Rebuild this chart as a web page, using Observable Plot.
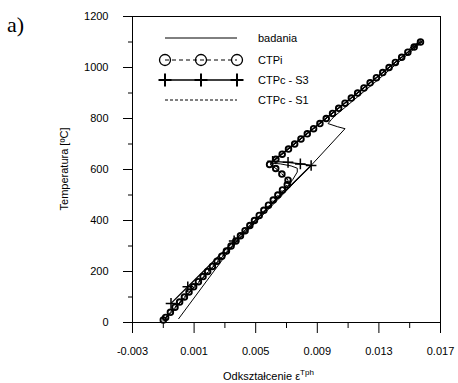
<!DOCTYPE html>
<html><head><meta charset="utf-8">
<script src="https://cdn.jsdelivr.net/npm/d3@7"></script>
<script src="https://cdn.jsdelivr.net/npm/@observablehq/plot@0.6"></script>
<style>body{margin:0;background:#fff} svg{display:block}</style>
</head><body><div id="chart"></div><script>
// ---- axis ticks ----
const xTicks = [-0.003, 0.001, 0.005, 0.009, 0.013, 0.017];
const xMinorTicks = [-0.001, 0.003, 0.007, 0.011, 0.015];
const yTicks = [0, 200, 400, 600, 800, 1000, 1200];
const yMinorTicks = [100, 300, 500, 700, 900, 1100];
const seriesNames = ["badania", "CTPi", "CTPc - S3", "CTPc - S1"];

// ---- badania (measurement) ----
const badaniaStrain = [0.0000, 0.0035, 0.0086, 0.0108, 0.0103, 0.0097, 0.0099, 0.0101, 0.0130, 0.0158, 0.0157, 0.0150, 0.0156, 0.0108, 0.0060, 0.0066, 0.0073, 0.0077, 0.0077, 0.0074, 0.0070, 0.0030, -0.0009];
const badaniaTemp   = [15, 300, 616, 760, 768, 780, 795, 808, 955, 1100, 1106, 1075, 1094, 860, 625, 622, 614, 605, 590, 560, 530, 268, 12];

// ---- CTPi ----
const ctpiStrain = [0.01570, 0.01529, 0.01488, 0.01448, 0.01407, 0.01366, 0.01325, 0.01284, 0.01243, 0.01203, 0.01162, 0.01121, 0.01080, 0.01039, 0.00999, 0.00958, 0.00917, 0.00876, 0.00835, 0.00794, 0.00753, 0.00713, 0.00672, 0.00631, 0.00590,
  0.0063, 0.0067, 0.0071,
  0.00705, 0.00674, 0.00644, 0.00614, 0.00583, 0.00553, 0.00523, 0.00492, 0.00462, 0.00431, 0.00401, 0.00371, 0.00340, 0.00310, 0.00280, 0.00249, 0.00219, 0.00188, 0.00158, 0.00128, 0.00097, 0.00067, 0.00037, 0.00006, -0.00024, -0.00054, -0.00085, -0.00100];
const ctpiTemp = [1100, 1080, 1060, 1040, 1020, 1000, 980, 960, 940, 920, 900, 880, 860, 840, 820, 800, 780, 760, 740, 720, 700, 680, 660, 640, 620,
  604, 582, 558,
  540, 520, 500, 480, 460, 440, 420, 400, 380, 360, 340, 320, 300, 280, 260, 240, 220, 200, 180, 160, 140, 120, 100, 80, 60, 40, 20, 10];

// ---- CTPc - S3 ----
const s3Strain = [0.0157, 0.0061, 0.0071, 0.0079, 0.0086, 0.0036, 0.00059, -0.0005];
const s3Temp   = [1100, 632, 628, 622, 616, 320, 140, 75];

// ---- CTPc - S1 ----
const s1Strain = [0.0157, 0.0059, 0.0064, 0.0069, 0.0073, -0.0010];
const s1Temp   = [1100, 622, 600, 572, 548, 10];

const toRows = (xs, ys) => xs.map((x, i) => ({x, y: ys[i]}));
const badania = toRows(badaniaStrain, badaniaTemp);
const ctpi = toRows(ctpiStrain, ctpiTemp);
const s3 = toRows(s3Strain, s3Temp);
const s1 = toRows(s1Strain, s1Temp);

const font = "'Liberation Sans', Arial, sans-serif";

const plot = Plot.plot({
  width: 458, height: 383,
  marginLeft: 132, marginRight: 18, marginTop: 16, marginBottom: 61,
  x: {domain: [-0.003, 0.017]},
  y: {domain: [0, 1200]},
  style: {fontFamily: font, fontSize: "11px", color: "#000", background: "#fff", overflow: "visible"},
  marks: [
    Plot.frame({stroke: "#000", strokeWidth: 1}),
    Plot.axisY({ticks: yTicks, tickSize: 9, tickPadding: 15, tickFormat: d => String(d), label: null, stroke: "#000"}),
    Plot.axisY({ticks: yMinorTicks, tickSize: 4, tickFormat: () => "", label: null, stroke: "#000"}),
    Plot.axisX({ticks: xTicks, tickSize: 11, tickPadding: 14, tickFormat: d => d.toFixed(3), label: null, stroke: "#000"}),
    Plot.axisX({ticks: xMinorTicks, tickSize: 6, tickFormat: () => "", label: null, stroke: "#000"}),
    Plot.line(badania, {x: "x", y: "y", stroke: "#000", strokeWidth: 1}),
    Plot.line(s1, {x: "x", y: "y", stroke: "#000", strokeWidth: 1, strokeDasharray: "3,2"}),
    Plot.line(s3, {x: "x", y: "y", stroke: "#000", strokeWidth: 1.3}),
    Plot.dot(s3.slice(1), {x: "x", y: "y", symbol: "plus", r: 3.5, stroke: "#000", strokeWidth: 1.5}),
    Plot.line(ctpi, {x: "x", y: "y", stroke: "#000", strokeWidth: 1, strokeDasharray: "4,3"}),
    Plot.dot(ctpi, {x: "x", y: "y", r: 2.8, stroke: "#000", strokeWidth: 1.9, fill: "none"})
  ]
});

const svg = d3.select(plot);
// panel letter
svg.append("text").attr("x", 7).attr("y", 32).attr("text-anchor", "start")
  .attr("font-family", "'Liberation Serif', 'Times New Roman', serif")
  .attr("font-size", 22).attr("fill", "#000").text("a)");
// y label
svg.append("text").attr("transform", "translate(68,169) rotate(-90)").attr("text-anchor", "middle")
  .attr("font-family", font).attr("font-size", 11).attr("fill", "#000").text("Temperatura [ºC]");
// x label
const xl = svg.append("text").attr("x", 223).attr("y", 380).attr("text-anchor", "start")
  .attr("font-family", font).attr("font-size", 11).attr("fill", "#000");
xl.append("tspan").text("Odkształcenie ε");
xl.append("tspan").attr("dy", -5).attr("font-size", 8).text("Tph");

// legend
const lg = svg.append("g");
const rowsY = [38, 60, 80, 100];
const lx1 = 165, lx2 = 237, lxm = 201, ltx = 258;
lg.append("line").attr("x1", lx1).attr("x2", lx2).attr("y1", rowsY[0]).attr("y2", rowsY[0]).attr("stroke", "#000").attr("stroke-width", 1);
lg.append("line").attr("x1", lx1).attr("x2", lx2).attr("y1", rowsY[1]).attr("y2", rowsY[1]).attr("stroke", "#000").attr("stroke-width", 1).attr("stroke-dasharray", "4,3");
[lx1, lxm, lx2].forEach(x => lg.append("circle").attr("cx", x).attr("cy", rowsY[1]).attr("r", 5.5).attr("fill", "none").attr("stroke", "#000").attr("stroke-width", 1.3));
lg.append("line").attr("x1", lx1).attr("x2", lx2).attr("y1", rowsY[2]).attr("y2", rowsY[2]).attr("stroke", "#000").attr("stroke-width", 1.5);
[lx1, lxm, lx2].forEach(x => {
  lg.append("line").attr("x1", x - 6.5).attr("x2", x + 6.5).attr("y1", rowsY[2]).attr("y2", rowsY[2]).attr("stroke", "#000").attr("stroke-width", 2);
  lg.append("line").attr("x1", x).attr("x2", x).attr("y1", rowsY[2] - 6.5).attr("y2", rowsY[2] + 6.5).attr("stroke", "#000").attr("stroke-width", 2);
});
lg.append("line").attr("x1", lx1).attr("x2", lx2).attr("y1", rowsY[3]).attr("y2", rowsY[3]).attr("stroke", "#000").attr("stroke-width", 1).attr("stroke-dasharray", "3,2");
seriesNames.forEach((n, i) => lg.append("text").attr("x", ltx).attr("y", rowsY[i] + 4).attr("text-anchor", "start")
  .attr("font-family", font).attr("font-size", 11).attr("fill", "#000").text(n));

document.getElementById("chart").appendChild(plot);
</script></body></html>
